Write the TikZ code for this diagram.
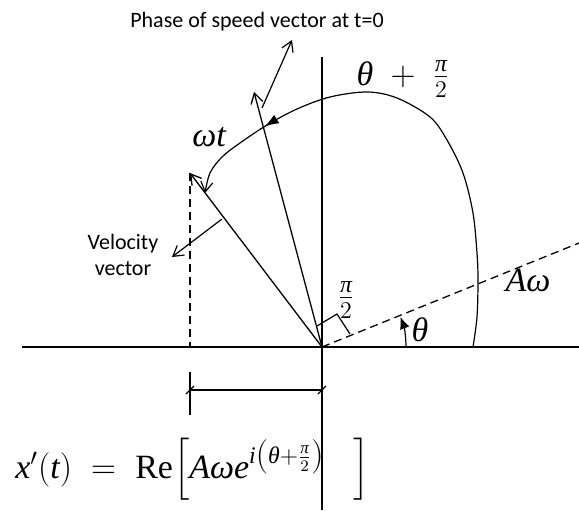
\documentclass[tikz,border=0pt]{standalone}
\usepackage{amsmath}
\usepackage{fontspec}
\setmainfont{Liberation Serif}
\newfontfamily\notefont{Carlito}
\newcommand\mi[1]{\text{\itshape #1}}
\usetikzlibrary{arrows.meta, decorations.markings, calc}
\tikzset{
  axisline/.style = {line width=0.75pt},
  vec/.style = {line width=0.65pt, -{Straight Barb[length=5pt,width=6pt]}},
  pointer/.style = {line width=0.6pt, -{Straight Barb[length=5pt,width=6pt]}},
  guide/.style = {line width=0.65pt, dash pattern=on 4pt off 2.5pt},
  thin line/.style = {line width=0.6pt},
  bigmath/.style = {font=\fontsize{17}{20}\selectfont, inner sep=0pt},
  note/.style = {font=\notefont\fontsize{11}{13}\selectfont, align=center, inner sep=0pt}
}

\begin{document}
\begin{tikzpicture}[x=0.5pt, y=0.5pt]

\useasboundingbox (-322,-163) rectangle (257,347);

% ----- POINTS -----
\coordinate (O)   at (0,0);
\coordinate (XL)  at (-300,0);
\coordinate (XR)  at (257,0);
\coordinate (YT)  at (0,290);
\coordinate (YB)  at (0,-163);
\coordinate (R)   at (257,104);    % direction theta
\coordinate (P)   at (-68,255);    % phase at t=0
\coordinate (V)   at (-132,174);   % velocity vector
\coordinate (VF)  at (-132,0);
\coordinate (PhA) at (-60,239);
\coordinate (PhB) at (-30,307);
\coordinate (VeA) at (-100,128);
\coordinate (VeB) at (-150,90);
\coordinate (D1)  at (-132,-43);
\coordinate (D2)  at (0,-43);

% ----- AXES -----
\draw[axisline] (XL) -- (XR);
\draw[axisline] (YT) -- (YB);

% ----- VECTORS -----
\draw[guide] (O) -- (R);
\draw[vec] (O) -- (P);
\draw[vec] (O) -- (V);
\draw[guide] (V) -- (VF);

% right angle mark
\draw[thin line] (-5,21) -- (15,33) -- (28,13);

% angle theta
\draw[thin line, -{Latex[length=6pt,width=5pt]}] (84,0) arc[start angle=0, end angle=21, radius=84];

% swept angle theta + pi/2, then omega t
\draw[thin line, -{Straight Barb[length=5pt,width=6pt]},
      postaction={decorate},
      decoration={markings, mark=at position 0.818 with {\arrow{Latex[length=7pt,width=5pt]}}}]
  plot[smooth, tension=0.55] coordinates {(151,0) (155,30) (156,67) (155,94) (151,134) (141,174)
    (125,207) (108,230) (75,249) (45,255) (8,250) (-25,238) (-55,222) (-82,204) (-100,190)
    (-112,174) (-117,154)};

% ----- ANNOTATIONS -----
\draw[pointer] (PhA) -- (PhB);
\draw[pointer] (VeA) -- (VeB);

% ----- DIMENSION -----
\draw[thin line] (-132,-25) -- (-132,-68);
\draw[thin line] (D1) -- (D2);
\draw[thin line] ($(D1)+(-4,-4)$) -- ($(D1)+(4,4)$);
\draw[thin line] ($(D2)+(-4,-4)$) -- ($(D2)+(4,4)$);

% ----- LABELS -----
\node[note]    (phase) at (-65,325) {Phase of speed vector at t=0};
\node[note]    (vel)   at (-199,92) {Velocity\\ vector};
\node[bigmath] (sum)   at (81,268)  {$\mi{θ}\;+\;\frac{\mi{π}}{2}$};
\node[bigmath] (wt)    at (-113,210) {$\mi{ωt}$};
\node[bigmath] (amp)   at (206,67)  {$\mi{Aω}$};
\node[bigmath] (th)    at (98,17)   {$\mi{θ}$};
\node[bigmath] (half)  at (24,47)   {$\frac{\mi{π}}{2}$};
\node[bigmath, anchor=base west] (eq) at (-307,-131)
  {$\mi{x}'(\mi{t})\;=\;\mathrm{Re}\Big[\mi{Aωe}^{\mi{i}\left(\mi{θ}+\frac{\mi{π}}{2}\right)}\;\;\;\Big]$};

\end{tikzpicture}
\end{document}
